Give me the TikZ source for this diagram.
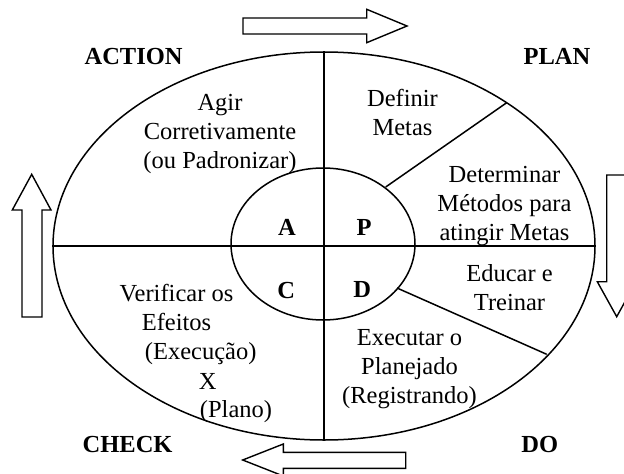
\documentclass[tikz,border=0pt]{standalone}
\usepackage{fontspec}
\setmainfont{Liberation Serif}
\usetikzlibrary{shapes.geometric}
\begin{document}
\begin{tikzpicture}[x=1pt,y=-1pt,
  line width=1.5pt,
  txt/.style={font=\fontsize{24.5}{29}\selectfont, align=center, inner sep=0pt, anchor=base},
  lbl/.style={font=\fontsize{24.5}{29}\selectfont\bfseries, inner sep=0pt, anchor=base},
  ring/.style={draw, ellipse, inner sep=0pt},
  blockarrow/.style={draw, fill=white, line width=1.4pt, line join=miter}]
\useasboundingbox (0,0) rectangle (624,474);
\clip (0,0) rectangle (624,474);
\fill[white] (0,0) rectangle (624,474);
% rings
\node[ring, minimum width=542pt, minimum height=388pt] (outer) at (324,246) {};
\node[ring, minimum width=184pt, minimum height=152pt] (inner) at (323,244) {};
\draw (outer.north) -- (outer.south);
\draw (outer.west) -- (outer.east);
\coordinate (pin) at (385.7,187);
\coordinate (pout) at (506.7,102.7);
\coordinate (din) at (397,288);
\coordinate (dout) at (546.7,354.3);
\draw (pin) -- (pout);
\draw (din) -- (dout);
% block arrows
\draw[blockarrow] (243,18) -- (366.7,18) -- (366.7,9.3) -- (407,26) -- (366.7,42.7) -- (366.7,34) -- (243,34) -- cycle;
\draw[blockarrow] (606.7,175) -- (626.7,175) -- (626.7,281.7) -- (636,281.7) -- (616.7,316.7) -- (597.3,281.7) -- (606.7,281.7) -- cycle;
\draw[blockarrow] (405.7,452.3) -- (283.3,452.3) -- (283.3,444) -- (242.7,460) -- (283.3,476) -- (283.3,468.3) -- (405.7,468.3) -- cycle;
\draw[blockarrow] (22,317) -- (22,210) -- (12.3,210) -- (31.7,174.3) -- (51,210) -- (42,210) -- (42,317) -- cycle;
% corner labels
\node[lbl] (action) at (133.6,64) {ACTION};
\node[lbl] (plan) at (557,64) {PLAN};
\node[lbl] (check) at (127.6,452) {CHECK};
\node[lbl] (do) at (539.7,452) {DO};
% letters
\node[lbl] (la) at (287,235) {A};
\node[lbl] (lp) at (364,235.5) {P};
\node[lbl] (lc) at (286.3,298) {C};
\node[lbl] (ld) at (362.3,297.5) {D};
% texts (base anchor = baseline of last line)
\node[txt] (agir) at (220,168.3) {Agir\\Corretivamente\\(ou Padronizar)};
\node[txt] (definir) at (402.5,135) {Definir\\Metas};
\node[txt] (determinar) at (504.5,240.5) {Determinar\\Métodos para\\atingir Metas};
\node[txt] (educar) at (509.5,310) {Educar e\\Treinar};
\node[txt] (executar) at (409.5,403) {Executar o\\Planejado\\(Registrando)};
\node[txt] (verificar) at (176.5,330.7) {Verificar os\\Efeitos};
\node[txt] (execucao) at (200.7,359) {(Execução)};
\node[txt] (xx) at (207.8,389) {X};
\node[txt] (plano) at (236,417.5) {(Plano)};
\end{tikzpicture}
\end{document}
